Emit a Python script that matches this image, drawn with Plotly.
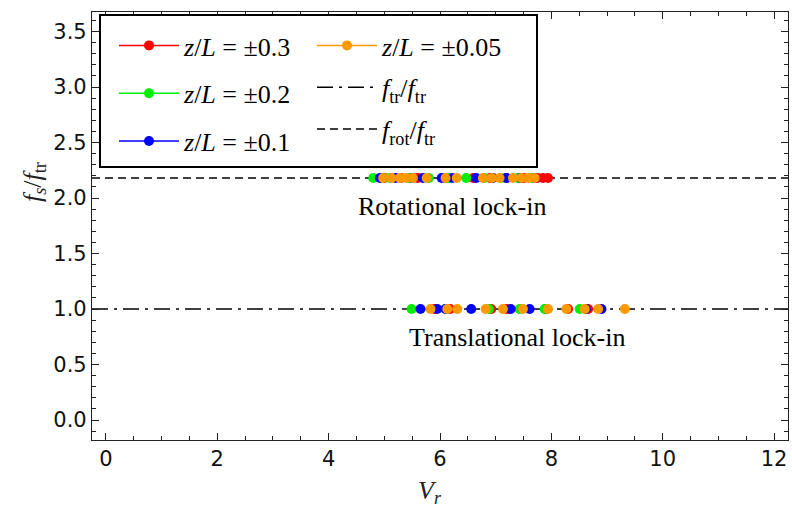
import plotly.graph_objects as go

# ---- data ----
series_names = ["±0.3", "±0.2", "±0.1", "±0.05"]
series_colors = ["#FF0000", "#00EE00", "#0000FF", "#FF9900"]

rot_ratio = 2.18
trans_ratio = 1.0

rot_x_03 = [5.00, 5.30, 5.60, 6.10, 6.60, 6.90, 7.20, 7.50, 7.75, 7.85, 7.94]
rot_x_02 = [4.80, 5.10, 5.45, 5.80, 6.15, 6.47, 6.80, 7.10, 7.40, 7.65]
rot_x_01 = [4.92, 5.20, 5.50, 5.69, 6.03, 6.22, 6.65, 6.95, 7.19, 7.45, 7.70]
rot_x_005 = [4.98, 5.13, 5.28, 5.40, 5.51, 5.76, 6.10, 6.30, 6.77, 6.93, 7.07, 7.31, 7.46, 7.59, 7.70]

tr_x_03 = [5.90, 6.18, 6.92, 7.20, 7.90, 8.30, 8.66]
tr_x_02 = [5.49, 6.10, 6.88, 7.43, 7.88, 8.51]
tr_x_01 = [5.65, 5.95, 6.10, 6.56, 7.27, 7.61, 8.62, 8.90]
tr_x_005 = [5.83, 6.13, 6.31, 6.82, 7.13, 7.49, 7.94, 8.27, 8.60, 8.84, 9.32]

x_range = [-0.25, 12.25]
y_range = [-0.18, 3.676]
x_ticks = [0, 2, 4, 6, 8, 10, 12]
y_ticks = [0.0, 0.5, 1.0, 1.5, 2.0, 2.5, 3.0, 3.5]

rot_series = [rot_x_03, rot_x_02, rot_x_01, rot_x_005]
tr_series = [tr_x_03, tr_x_02, tr_x_01, tr_x_005]

SERIF = "Liberation Serif, Times New Roman, serif"
SANS = "DejaVu Sans, sans-serif"

fig = go.Figure()

# reference lines (drawn beneath markers)
fig.add_trace(go.Scatter(
    x=x_range, y=[trans_ratio, trans_ratio], mode="lines",
    line=dict(color="black", width=1.6, dash="16px,6px,3px,6px"),
    name="<i>f</i><sub>tr</sub>/<i>f</i><sub>tr</sub>",
    legend="legend2", legendrank=2, legendgroup="ftr"))
fig.add_trace(go.Scatter(
    x=x_range, y=[rot_ratio, rot_ratio], mode="lines",
    line=dict(color="black", width=1.6, dash="8px,5px"),
    name="<i>f</i><sub>rot</sub>/<i>f</i><sub>tr</sub>",
    legend="legend2", legendrank=3, legendgroup="frot"))


def broken(xs_rot, xs_tr):
    xs, ys = [], []
    for v in xs_rot:
        xs += [v, None]
        ys += [rot_ratio, None]
    for v in xs_tr:
        xs += [v, None]
        ys += [trans_ratio, None]
    return xs, ys


for i, (nm, col, xr, xt) in enumerate(zip(series_names, series_colors, rot_series, tr_series)):
    xs, ys = broken(xr, xt)
    leg = "legend2" if i == 3 else "legend"
    fig.add_trace(go.Scatter(
        x=xs, y=ys, mode="lines+markers", connectgaps=False,
        line=dict(color=col, width=1.5),
        marker=dict(color=col, size=10, line=dict(width=0)),
        name=f"<i>z</i>/<i>L</i> = {nm}",
        legend=leg, legendrank=(i + 1 if i < 3 else 1), legendgroup=f"g{i}"))

# annotations
fig.add_annotation(x=6.21, y=1.92, text="Rotational lock-in", showarrow=False,
                   font=dict(family=SERIF, size=26, color="black"))
fig.add_annotation(x=7.38, y=0.74, text="Translational lock-in", showarrow=False,
                   font=dict(family=SERIF, size=26, color="black"))

L, R, T, B = 92, 4, 12, 73
W, H = 792, 513
pw, ph = W - L - R, H - T - B


def px(x):
    return (x - L) / pw


def py(y):
    return (H - B - y) / ph


# axis titles as annotations
fig.add_annotation(xref="paper", yref="paper", x=px(430), y=py(492), yanchor="middle",
                   text="<i>V<sub>r</sub></i>", showarrow=False,
                   font=dict(family=SERIF, size=26, color="#222"))
fig.add_annotation(xref="paper", yref="paper", x=px(34), y=py(182), xanchor="center", yanchor="middle",
                   text="<i>f<sub>s</sub></i>/<i>f</i><sub>tr</sub>", showarrow=False, textangle=-90,
                   font=dict(family=SERIF, size=26, color="#222"))

# legend border
fig.add_shape(type="rect", xref="paper", yref="paper",
              x0=px(100), x1=px(537), y0=py(167), y1=py(15),
              line=dict(color="black", width=2), fillcolor="white", layer="above")

legend_common = dict(bgcolor="rgba(0,0,0,0)", borderwidth=0,
                     font=dict(family=SERIF, size=26, color="black"),
                     xanchor="left", yanchor="top",
                     itemwidth=60, traceorder="grouped")

fig.update_layout(
    width=W, height=H,
    margin=dict(l=L, r=R, t=T, b=B),
    paper_bgcolor="white", plot_bgcolor="white",
    showlegend=True,
    legend=dict(x=px(114), y=py(22), tracegroupgap=11, **legend_common),
    legend2=dict(x=px(312), y=py(22), tracegroupgap=5, **legend_common),
    xaxis=dict(range=x_range, tickvals=x_ticks, ticks="inside", ticklen=7, tickwidth=1,
               tickcolor="#222", showline=True, linecolor="#222", linewidth=1.2, mirror="allticks",
               showgrid=False, zeroline=False,
               minor=dict(ticks="inside", ticklen=4, dtick=0.5, tickcolor="#222", showgrid=False),
               tickfont=dict(family=SANS, size=21, color="#111")),
    yaxis=dict(range=y_range, tickvals=y_ticks, tickformat=".1f", ticks="inside", ticklen=7,
               tickwidth=1, tickcolor="#222", showline=True, linecolor="#222", linewidth=1.2,
               mirror="allticks", showgrid=False, zeroline=False,
               minor=dict(ticks="inside", ticklen=4, dtick=0.1, tickcolor="#222", showgrid=False),
               tickfont=dict(family=SANS, size=21, color="#111")),
)

fig.write_html("out.html")
